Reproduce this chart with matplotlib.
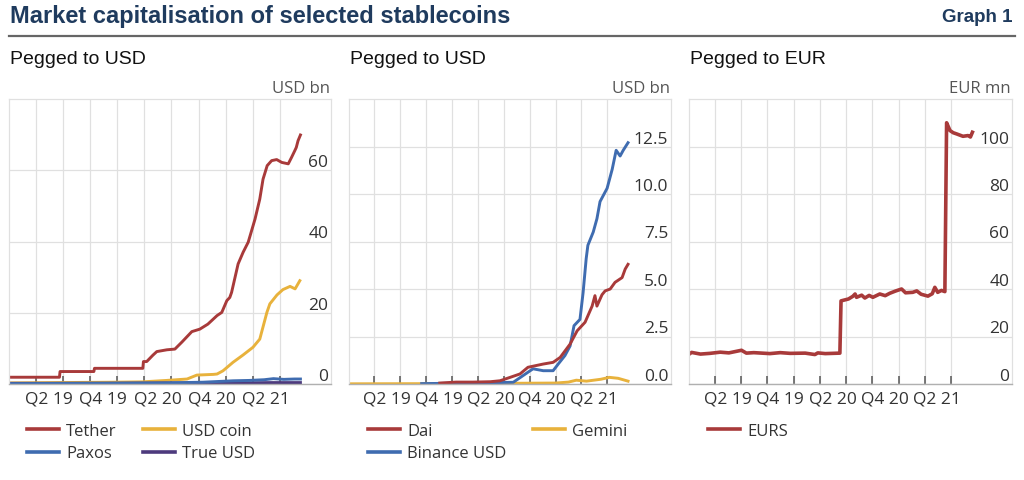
import matplotlib
matplotlib.use("Agg")
import matplotlib.pyplot as plt
import pandas as pd

plt.rcParams["font.family"] = ["Open Sans", "DejaVu Sans"]

# ---- data ----
# left panel, USD bn
tether_dates = ["2019-01-01", "2019-06-20", "2019-06-22", "2019-10-14", "2019-10-16",
                "2020-03-27", "2020-03-29", "2020-04-09", "2020-04-30", "2020-05-13",
                "2020-06-16", "2020-07-13", "2020-08-06", "2020-09-08", "2020-10-05",
                "2020-11-01", "2020-12-02", "2020-12-18", "2021-01-04", "2021-01-14",
                "2021-01-20", "2021-02-11", "2021-02-28", "2021-03-17", "2021-04-09",
                "2021-04-25", "2021-05-06", "2021-05-20", "2021-06-04", "2021-06-21",
                "2021-07-08", "2021-07-30", "2021-08-10", "2021-08-21", "2021-08-26",
                "2021-09-01", "2021-09-09"]
tether_vals = [1.9, 1.9, 3.5, 3.5, 4.4,
               4.4, 6.3, 6.3, 8.1, 9.1,
               9.6, 9.8, 11.8, 14.7, 15.4,
               16.8, 19.2, 20.1, 23.4, 24.3,
               25.7, 33.7, 37.0, 39.8, 46.3,
               51.9, 57.5, 61.3, 62.7, 63.0,
               62.2, 61.8, 63.6, 65.5, 66.4,
               68.3, 69.9]

usdc_dates = ["2019-01-01", "2019-06-15", "2019-12-15", "2020-03-26", "2020-06-15",
              "2020-08-23", "2020-09-25", "2020-11-20", "2020-12-02", "2020-12-22",
              "2021-01-25", "2021-02-27", "2021-04-02", "2021-04-25", "2021-05-19",
              "2021-05-29", "2021-06-22", "2021-07-12", "2021-08-05", "2021-08-22",
              "2021-09-07"]
usdc_vals = [0.3, 0.4, 0.5, 0.6, 1.0,
             1.4, 2.5, 2.7, 2.8, 3.7,
             6.1, 8.1, 10.3, 12.6, 20.1,
             22.5, 25.0, 26.5, 27.4, 26.7,
             29.0]

paxos_dates = ["2019-01-01", "2019-09-01", "2020-06-01", "2020-10-15", "2021-01-25",
               "2021-03-20", "2021-05-10", "2021-06-10", "2021-07-15", "2021-08-20",
               "2021-09-09"]
paxos_vals = [0.1, 0.2, 0.3, 0.5, 0.9,
              1.0, 1.2, 1.5, 1.3, 1.4,
              1.4]

tusd_dates = ["2019-01-01", "2019-12-01", "2020-06-01", "2021-01-01", "2021-06-01",
              "2021-09-09"]
tusd_vals = [0.2, 0.2, 0.3, 0.3, 0.4, 0.4]

# middle panel, USD bn
dai_dates = ["2019-11-18", "2020-01-15", "2020-03-15", "2020-05-15", "2020-06-18",
             "2020-07-24", "2020-08-28", "2020-09-25", "2020-11-18", "2020-12-23",
             "2021-01-17", "2021-02-21", "2021-03-18", "2021-04-15", "2021-05-10",
             "2021-05-20", "2021-05-27", "2021-06-14", "2021-06-25", "2021-07-13",
             "2021-07-30", "2021-08-24", "2021-09-04", "2021-09-14"]
dai_vals = [0.05, 0.1, 0.1, 0.12, 0.17,
            0.35, 0.53, 0.88, 1.05, 1.14,
            1.4, 2.1, 2.8, 3.25, 4.1,
            4.65, 4.1, 4.7, 4.9, 5.0,
            5.35, 5.6, 6.05, 6.3]

busd_dates = ["2019-09-15", "2020-03-01", "2020-08-04", "2020-10-03", "2020-10-13",
              "2020-11-18", "2020-12-23", "2021-01-10", "2021-02-03", "2021-02-21",
              "2021-03-07", "2021-03-28", "2021-04-08", "2021-04-19", "2021-04-25",
              "2021-05-14", "2021-05-27", "2021-06-07", "2021-07-02", "2021-07-20",
              "2021-08-03", "2021-08-17", "2021-08-28", "2021-09-14"]
busd_vals = [0.02, 0.05, 0.09, 0.7, 0.8,
             0.7, 0.7, 1.05, 1.5, 2.0,
             3.07, 3.4, 4.8, 6.6, 7.3,
             8.0, 8.7, 9.6, 10.3, 11.3,
             12.3, 12.0, 12.3, 12.7]

gemini_dates = ["2019-01-01", "2020-01-01", "2021-01-01", "2021-02-15", "2021-03-15",
                "2021-04-20", "2021-06-10", "2021-07-10", "2021-08-10", "2021-09-14"]
gemini_vals = [0.01, 0.02, 0.05, 0.1, 0.2,
               0.15, 0.25, 0.35, 0.3, 0.15]

# right panel, EUR mn
eurs_dates = ["2019-01-01", "2019-01-10", "2019-02-10", "2019-03-15", "2019-04-20",
              "2019-05-20", "2019-07-03", "2019-07-20", "2019-08-15", "2019-10-10",
              "2019-11-15", "2019-12-20", "2020-02-10", "2020-03-15", "2020-03-25",
              "2020-04-20", "2020-06-10", "2020-06-14", "2020-07-10", "2020-07-25",
              "2020-08-02", "2020-08-07", "2020-08-25", "2020-09-05", "2020-09-20",
              "2020-10-03", "2020-10-27", "2020-11-15", "2020-12-01", "2020-12-20",
              "2021-01-11", "2021-01-25", "2021-02-19", "2021-03-05", "2021-03-20",
              "2021-04-13", "2021-04-28", "2021-05-07", "2021-05-17", "2021-05-30",
              "2021-06-11", "2021-06-17", "2021-06-29", "2021-07-10", "2021-07-22",
              "2021-08-13", "2021-08-31", "2021-09-08", "2021-09-15"]
eurs_vals = [12.5, 13.3, 12.6, 12.9, 13.4,
             13.1, 14.2, 13.0, 13.2, 12.8,
             13.2, 12.9, 13.0, 12.4, 13.1,
             12.8, 13.0, 35.0, 35.8, 36.9,
             37.9, 36.5, 37.4, 36.2, 37.3,
             36.5, 37.9, 37.2, 38.2, 39.1,
             40.0, 38.4, 38.6, 39.2, 37.8,
             37.0, 38.0, 40.7, 38.6, 39.4,
             38.9, 110.0, 106.7, 105.8, 105.3,
             104.3, 104.6, 104.0, 106.0]

quarter_starts = ["2019-04-01", "2019-07-01", "2019-10-01", "2020-01-01", "2020-04-01",
                  "2020-07-01", "2020-10-01", "2021-01-01", "2021-04-01", "2021-07-01"]
label_dates = ["2019-05-16", "2019-11-15", "2020-05-16", "2020-11-15", "2021-05-16"]
quarter_labels = ["Q2 19", "Q4 19", "Q2 20", "Q4 20", "Q2 21"]

RED = "#a83a3a"
GOLD = "#e8b23c"
BLUE = "#3f6cb0"
PURPLE = "#4d3a7d"
NAVY = "#1f3b5e"
FS = 12.5


def style_axes(ax, ymax, yticks, fmt, xmax, unit):
    ax.set_xlim(pd.Timestamp("2019-01-01"), pd.Timestamp(xmax))
    ax.set_ylim(0, ymax)
    ax.set_xticks(pd.to_datetime(quarter_starts))
    ax.set_xticklabels([])
    ax.set_xticks(pd.to_datetime(label_dates), minor=True)
    ax.set_xticklabels(quarter_labels, minor=True)
    ax.tick_params(axis="x", which="major", direction="in", length=6, width=1.1, color="#555555")
    ax.tick_params(axis="x", which="minor", length=0, pad=5, labelsize=FS, labelcolor="#333333")
    ax.yaxis.tick_right()
    ax.set_yticks(yticks)
    ax.set_yticklabels([fmt.format(v) for v in yticks])
    ax.tick_params(axis="y", length=0, pad=-2, labelsize=FS, labelcolor="#333333")
    for lbl in ax.get_yticklabels():
        lbl.set_ha("right")
        lbl.set_va("bottom")
    ax.grid(True, which="major", color="#e0e0e0", lw=0.9)
    ax.set_axisbelow(True)
    for s in ["top", "left", "right"]:
        ax.spines[s].set_color("#e0e0e0")
        ax.spines[s].set_linewidth(0.9)
    ax.spines["bottom"].set_color("#b0b0b0")
    ax.spines["bottom"].set_linewidth(1.0)
    ax.text(0.997, 1.01, unit, transform=ax.transAxes, ha="right", va="bottom",
            fontsize=12, color="#555555")


fig = plt.figure(figsize=(10.24, 4.81), dpi=100)
W, H = 1024.0, 481.0
bottom = 1 - 385 / H
height = 285 / H

ax1 = fig.add_axes([9 / W, bottom, 322 / W, height])
ax2 = fig.add_axes([349 / W, bottom, 322 / W, height])
ax3 = fig.add_axes([689 / W, bottom, 323 / W, height])

lw = 2.1
l_tether, = ax1.plot(pd.to_datetime(tether_dates), tether_vals, color=RED, lw=lw, label="Tether")
l_usdc, = ax1.plot(pd.to_datetime(usdc_dates), usdc_vals, color=GOLD, lw=lw, label="USD coin")
l_tusd, = ax1.plot(pd.to_datetime(tusd_dates), tusd_vals, color=PURPLE, lw=lw, label="True USD")
l_paxos, = ax1.plot(pd.to_datetime(paxos_dates), paxos_vals, color=BLUE, lw=lw, label="Paxos")
style_axes(ax1, 80, [0, 20, 40, 60], "{:.0f}", "2021-12-21", "USD bn")

l_gem, = ax2.plot(pd.to_datetime(gemini_dates), gemini_vals, color=GOLD, lw=lw, label="Gemini")
l_busd, = ax2.plot(pd.to_datetime(busd_dates), busd_vals, color=BLUE, lw=lw, label="Binance USD")
l_dai, = ax2.plot(pd.to_datetime(dai_dates), dai_vals, color=RED, lw=lw, label="Dai")
style_axes(ax2, 15, [0, 2.5, 5, 7.5, 10, 12.5], "{:.1f}", "2022-02-13", "USD bn")

l_eurs, = ax3.plot(pd.to_datetime(eurs_dates), eurs_vals, color=RED, lw=2.6, label="EURS")
style_axes(ax3, 120, [0, 20, 40, 60, 80, 100], "{:.0f}", "2022-01-31", "EUR mn")

leg_kw = dict(loc="upper left", frameon=False, fontsize=12, handlelength=1.9,
              handletextpad=0.45, columnspacing=1.6, labelspacing=0.38,
              borderpad=0, borderaxespad=0)
leg_y = 1 - 424 / H
for lg in [
    fig.legend([l_tether, l_paxos, l_usdc, l_tusd], ["Tether", "Paxos", "USD coin", "True USD"],
               ncol=2, bbox_to_anchor=(27 / W, leg_y), **leg_kw),
    fig.legend([l_dai, l_busd, l_gem], ["Dai", "Binance USD", "Gemini"],
               ncol=2, bbox_to_anchor=(368 / W, leg_y), **leg_kw),
    fig.legend([l_eurs], ["EURS"], ncol=1, bbox_to_anchor=(708 / W, leg_y), **leg_kw),
]:
    for t in lg.get_texts():
        t.set_color("#333333")
    for h in lg.legend_handles:
        h.set_linewidth(2.6)

# header
fig.text(10 / W, 1 - 17 / H, "Market capitalisation of selected stablecoins",
         fontsize=17, fontweight="bold", color=NAVY, family="Liberation Sans",
         ha="left", va="center")
fig.text(1013 / W, 1 - 18 / H, "Graph 1", fontsize=13.5, fontweight="bold", color=NAVY,
         family="Liberation Sans", ha="right", va="center")
fig.add_artist(plt.Line2D([9 / W, 1015 / W], [1 - 37 / H, 1 - 37 / H], color="#666666", lw=1.6))

for x0, sub in [(10, "Pegged to USD"), (350, "Pegged to USD"), (690, "Pegged to EUR")]:
    fig.text(x0 / W, 1 - 60 / H, sub, fontsize=14, family="Liberation Sans",
             color="#111111", ha="left", va="center")

fig.savefig("out.png", dpi=100)
